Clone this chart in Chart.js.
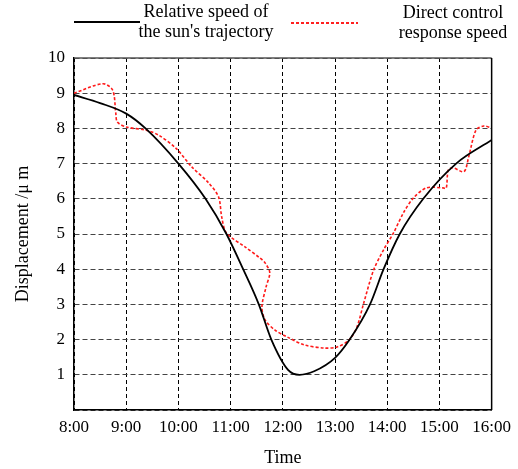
<!DOCTYPE html>
<html>
<head>
<meta charset="utf-8">
<script src="https://cdn.jsdelivr.net/npm/chart.js@4"></script>
<style>
  body { margin: 0; background: #fff; }
  #wrap { position: relative; width: 518px; height: 469px; }
  .leg { position: absolute; font-family: "Liberation Serif", serif; font-size: 18px; line-height: 20px; text-align: center; color: #000; white-space: nowrap; }
  .sample { position: absolute; }
</style>
</head>
<body>
<div id="wrap">
  <canvas id="myChart" width="518" height="469"></canvas>
  <div class="sample" style="left:74px; top:21px; width:66px; height:1.5px; background:#000;"></div>
  <div class="leg" style="left:126px; top:1px; width:160px;">Relative speed of<br>the sun's trajectory</div>
  <div class="sample" style="left:291px; top:22px; width:67px; height:1.5px; background:repeating-linear-gradient(to right, #ff2020 0 3px, transparent 3px 5px);"></div>
  <div class="leg" style="left:383px; top:2px; width:140px;">Direct control<br>response speed</div>
</div>
<script>
const timeLabels = ["8:00", "9:00", "10:00", "11:00", "12:00", "13:00", "14:00", "15:00", "16:00"];

// relative speed of the sun's trajectory
const relHours = [8.0, 8.5, 9.0, 9.37, 10.0, 10.52, 10.92, 11.24, 11.54, 11.78, 12.1, 12.32, 12.6, 13.0, 13.28, 13.67, 13.93, 14.24, 14.69, 15.32, 16.0];
const relValues = [8.95, 8.72, 8.42, 8.0, 7.0, 6.0, 5.0, 4.0, 3.0, 2.0, 1.14, 1.0, 1.1, 1.48, 2.0, 3.0, 4.0, 5.0, 6.0, 7.0, 7.67];

// direct control response speed
const ctrlHours = [8.0, 8.55, 8.74, 8.8, 8.83, 9.0, 9.38, 9.62, 9.95, 10.26, 10.58, 10.77, 10.83, 10.92, 11.28, 11.56, 11.66, 11.75, 11.68, 11.6, 11.66, 11.85, 12.09, 12.41, 12.8, 13.04, 13.27, 13.42, 13.55, 13.74, 13.93, 14.12, 14.31, 14.5, 14.75, 15.07, 15.13, 15.17, 15.26, 15.47, 15.56, 15.7, 15.85, 16.0];
const ctrlValues = [9.0, 9.27, 9.09, 8.44, 8.18, 8.04, 7.95, 7.81, 7.44, 6.9, 6.45, 6.05, 5.48, 5.03, 4.63, 4.32, 4.18, 3.9, 3.5, 2.93, 2.56, 2.27, 2.07, 1.85, 1.76, 1.79, 1.99, 2.36, 3.04, 3.98, 4.55, 5.03, 5.6, 6.02, 6.31, 6.31, 6.3, 6.82, 6.88, 6.77, 7.19, 7.95, 8.07, 8.01];

const toPoints = (xs, ys) => xs.map((x, i) => ({ x: x, y: ys[i] }));

const tickFont = { family: "'Liberation Serif', serif", size: 17 };
const titleFont = { family: "'Liberation Serif', serif", size: 18 };

// top and right edges of the plot frame
const frame = {
  id: "frame",
  afterDatasetsDraw(chart) {
    const a = chart.chartArea;
    const c = chart.ctx;
    c.save();
    c.lineWidth = 1.5;
    c.strokeStyle = "#555";
    c.beginPath();
    c.moveTo(a.left, a.top);
    c.lineTo(a.right, a.top);
    c.stroke();
    c.strokeStyle = "#000";
    c.beginPath();
    c.moveTo(a.right, a.top);
    c.lineTo(a.right, a.bottom);
    c.stroke();
    c.restore();
  },
};

new Chart(document.getElementById("myChart"), {
  type: "line",
  data: {
    datasets: [
      {
        label: "Relative speed of the sun's trajectory",
        data: toPoints(relHours, relValues),
        borderColor: "#000",
        borderWidth: 1.8,
        pointRadius: 0,
        cubicInterpolationMode: "monotone",
      },
      {
        label: "Direct control response speed",
        data: toPoints(ctrlHours, ctrlValues),
        borderColor: "#ff1a1a",
        borderWidth: 1.6,
        borderDash: [3, 2],
        pointRadius: 0,
        tension: 0.3,
      },
    ],
  },
  options: {
    responsive: false,
    animation: false,
    layout: { padding: { left: 0, right: 22, top: 58, bottom: 0 } },
    plugins: { legend: { display: false }, tooltip: { enabled: false } },
    scales: {
      x: {
        type: "linear",
        min: 8,
        max: 16,
        afterFit: (s) => { s.height = 59; },
        ticks: {
          stepSize: 1,
          padding: 7,
          color: "#000",
          font: tickFont,
          maxRotation: 0,
          callback: (v) => timeLabels[v - 8],
        },
        grid: { color: "#000", lineWidth: 1, drawTicks: false },
        border: { color: "#000", width: 1.5, dash: [4, 3] },
        title: { display: true, text: "Time", color: "#000", font: titleFont, padding: { top: 0, bottom: 0 } },
      },
      y: {
        min: 0,
        max: 10,
        afterFit: (s) => { s.width = 74; },
        ticks: {
          stepSize: 1,
          padding: 9,
          color: "#000",
          font: tickFont,
          callback: (v) => (v === 0 ? "" : v),
        },
        grid: { color: "#444", lineWidth: 1, drawTicks: false },
        border: { color: "#000", width: 1.5, dash: [5, 3] },
        title: { display: true, text: "Displacement /μ m", color: "#000", font: titleFont, padding: { top: 12, bottom: 0 } },
      },
    },
  },
  plugins: [frame],
});
</script>
</body>
</html>
